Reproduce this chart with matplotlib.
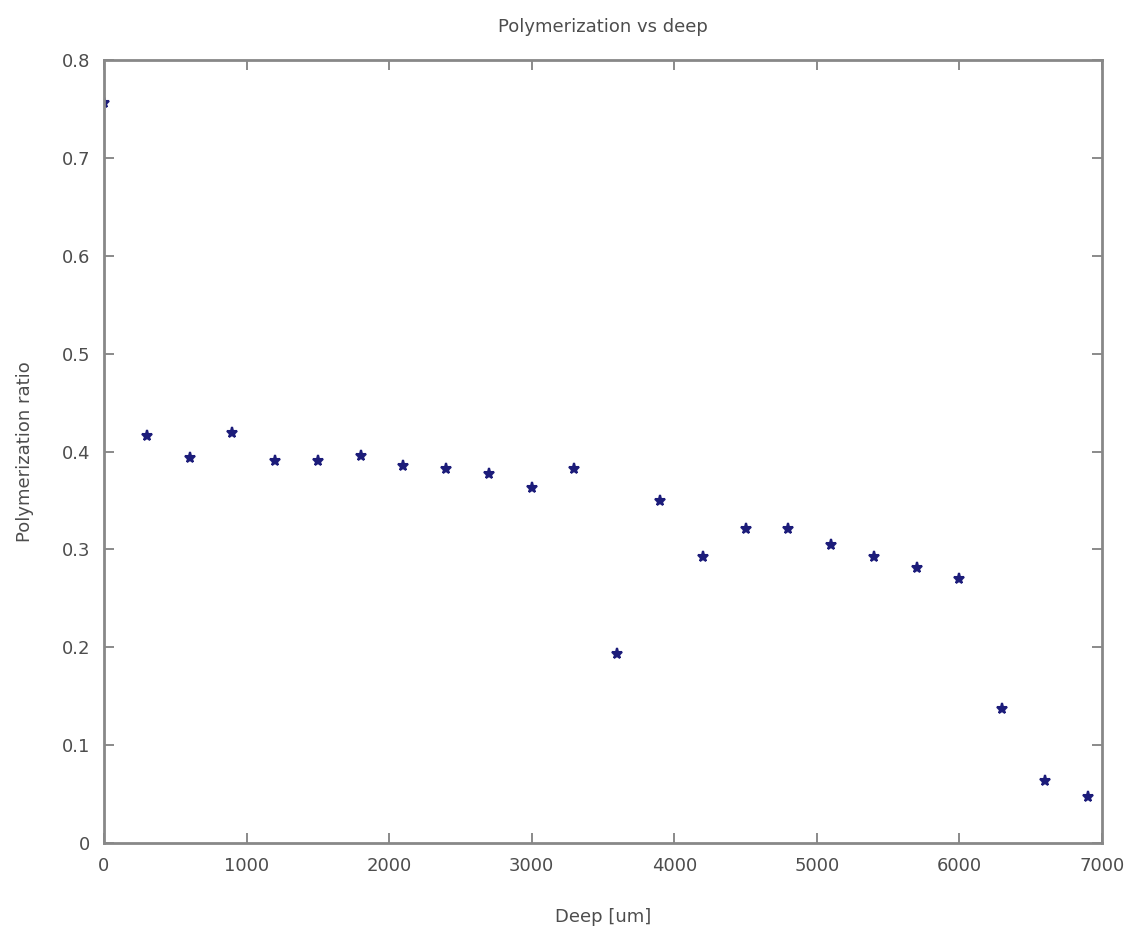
import numpy as np
import matplotlib.pyplot as plt

# depth [um] and polymerization ratio
deep = [0, 300, 600, 900, 1200, 1500, 1800, 2100, 2400, 2700, 3000, 3300,
        3600, 3900, 4200, 4500, 4800, 5100, 5400, 5700, 6000, 6300, 6600, 6900]
ratio = [0.756, 0.416, 0.393, 0.419, 0.390, 0.390, 0.395, 0.385, 0.382, 0.377,
         0.363, 0.382, 0.193, 0.349, 0.292, 0.321, 0.321, 0.304, 0.292, 0.281,
         0.270, 0.137, 0.063, 0.047]

x_ticks = [0, 1000, 2000, 3000, 4000, 5000, 6000, 7000]
y_ticks = [0, 0.1, 0.2, 0.3, 0.4, 0.5, 0.6, 0.7, 0.8]

fig = plt.figure(figsize=(11.4, 9.41), dpi=100)
ax = fig.add_axes([0.0912, 0.1041, 0.8755, 0.8321])

ax.plot(deep, ratio, linestyle="none", marker="*", markersize=8,
        color="#1c1c7a", markeredgewidth=1.5)

ax.set_xlim(0, 7000)
ax.set_ylim(0, 0.8)
ax.set_xticks(x_ticks)
ax.set_xticklabels([str(t) for t in x_ticks])
ax.set_yticks(y_ticks)
ax.set_yticklabels(["0", "0.1", "0.2", "0.3", "0.4", "0.5", "0.6", "0.7", "0.8"])

txt = "#4d4d4d"
ax.tick_params(direction="in", top=True, right=True, length=7, width=1.2,
               color="#777777", labelsize=13, labelcolor=txt, pad=10)
for s in ax.spines.values():
    s.set_color("#888888")
    s.set_linewidth(2)

ax.set_xlabel("Deep [um]", fontsize=13, color=txt, labelpad=24)
ax.set_ylabel("Polymerization ratio", fontsize=13, color=txt, labelpad=20)
ax.set_title("Polymerization vs deep", fontsize=13, color=txt, pad=20)

plt.savefig("out.png", dpi=100)
